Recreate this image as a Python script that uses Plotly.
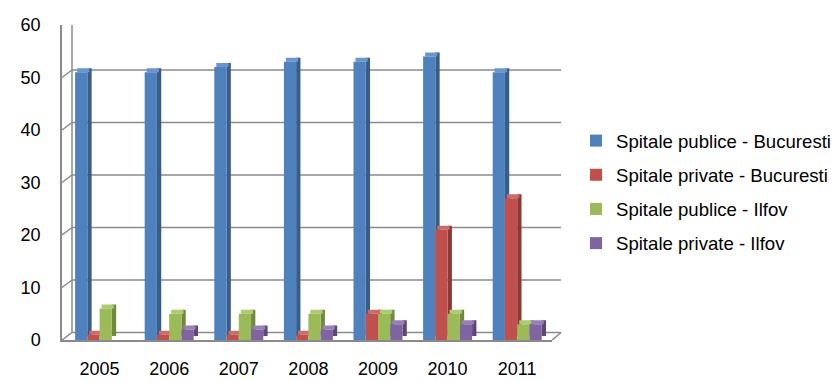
import plotly.graph_objects as go

years = ["2005", "2006", "2007", "2008", "2009", "2010", "2011"]
series_names = [
    "Spitale publice - Bucuresti",
    "Spitale private - Bucuresti",
    "Spitale publice - Ilfov",
    "Spitale private - Ilfov",
]
publice_buc = [51, 51, 52, 53, 53, 54, 51]
private_buc = [1, 1, 1, 1, 5, 21, 27]
publice_ilfov = [6, 5, 5, 5, 5, 5, 3]
private_ilfov = [0, 2, 2, 2, 3, 3, 3]
y_ticks = [0, 10, 20, 30, 40, 50, 60]

series_values = [publice_buc, private_buc, publice_ilfov, private_ilfov]
front_colors = ["#4F81BD", "#C0504D", "#9BBB59", "#8064A2"]
side_colors = ["#385D8A", "#8C3836", "#71893F", "#5C4776"]
top_colors = ["#6A96CF", "#D06A67", "#ADCB70", "#9680B8"]

# geometry (styling)
px_per_cat = 69.6
px_per_unit = 5.25
w = 0.176
first_off = -0.352
side_w = 4.3 / px_per_cat
depth_y = 4.0 / px_per_unit
top_shift = 2.0 / px_per_cat

fig = go.Figure()
for i, (name, vals) in enumerate(zip(series_names, series_values)):
    off = first_off + i * w
    fig.add_trace(go.Bar(
        x=years, y=vals, base=[depth_y] * len(vals),
        offset=off + w, width=side_w,
        marker=dict(color=side_colors[i], line=dict(width=0)),
        showlegend=False, hoverinfo="skip",
    ))
    fig.add_trace(go.Bar(
        x=years, y=[depth_y if v > 0 else 0 for v in vals], base=vals,
        offset=off + top_shift, width=w,
        marker=dict(color=top_colors[i], line=dict(width=0)),
        showlegend=False, hoverinfo="skip",
    ))
    fig.add_trace(go.Bar(
        x=years, y=vals, name=name,
        offset=off, width=w,
        marker=dict(color=front_colors[i], line=dict(width=0)),
        legendgroup=name,
    ))

grid_col = "#8A8A8A"
L, R, T, B = 62, 282, 25, 41
plot_w = 834 - L - R
dx_back = 10
dy_back = 7.5

shapes = []
for v in y_ticks:
    shapes.append(dict(
        type="line", xref="paper", yref="y",
        x0=dx_back / plot_w, x1=1 + 9 / plot_w,
        ysizemode="pixel", yanchor=v, y0=dy_back, y1=dy_back,
        line=dict(color=grid_col, width=1.5), layer="below",
    ))
    shapes.append(dict(
        type="line", xref="paper", yref="y",
        xsizemode="pixel", xanchor=0, x0=0, x1=dx_back,
        ysizemode="pixel", yanchor=v, y0=0, y1=dy_back,
        line=dict(color=grid_col, width=1.5), layer="below",
    ))
shapes.append(dict(
    type="line", xref="paper", yref="y",
    xsizemode="pixel", xanchor=0, x0=dx_back, x1=dx_back,
    ysizemode="pixel", yanchor=0, y0=dy_back, y1=dy_back + 60 * px_per_unit,
    line=dict(color=grid_col, width=1.5), layer="below",
))
shapes.append(dict(
    type="line", xref="paper", yref="y",
    xsizemode="pixel", xanchor=1, x0=0, x1=9,
    ysizemode="pixel", yanchor=0, y0=0, y1=dy_back,
    line=dict(color=grid_col, width=1.5), layer="below",
))

fig.update_layout(
    width=834, height=381,
    margin=dict(l=L, r=R, t=T, b=B, pad=0, autoexpand=False),
    barmode="overlay",
    paper_bgcolor="white", plot_bgcolor="white",
    font=dict(family="Liberation Sans, Arial, sans-serif", size=18, color="#000000"),
    shapes=shapes,
    showlegend=True,
    legend=dict(
        x=(576 - L) / plot_w, xanchor="left",
        y=(340 - 192) / 315, yanchor="middle",
        font=dict(size=18.6, color="#000000"),
        tracegroupgap=7,
        bgcolor="rgba(0,0,0,0)",
    ),
    xaxis=dict(
        type="category", range=[-0.54, 6.5], automargin=False,
        showgrid=False, zeroline=False,
        showline=True, linecolor=grid_col, linewidth=1.5,
        ticks="outside", ticklen=12, tickcolor="rgba(0,0,0,0)",
        tickfont=dict(size=18),
    ),
    yaxis=dict(
        range=[0, 60], tickvals=y_ticks, automargin=False,
        showgrid=False, zeroline=False,
        showline=True, linecolor=grid_col, linewidth=1.5,
        ticks="outside", ticklen=16, tickcolor="rgba(0,0,0,0)",
        tickfont=dict(size=18),
    ),
)

fig.write_html(
    "out.html",
    config={"displayModeBar": False},
    post_script="document.body.style.margin='0';document.body.style.padding='0';",
)
